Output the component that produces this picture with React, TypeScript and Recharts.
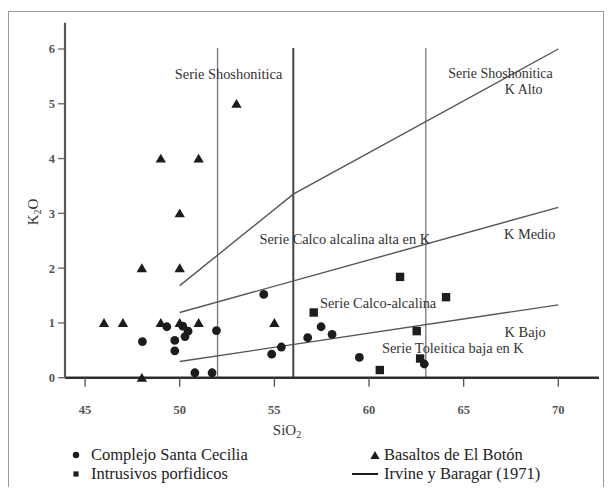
import React from 'react';
import { ScatterChart, Scatter, XAxis, YAxis, ReferenceLine, Legend } from 'recharts';

const FONT = '"Liberation Serif", Tinos, "DejaVu Serif", "Noto Serif", "Times New Roman", Times, serif';

const xTicks = [45, 50, 55, 60, 65, 70];
const yTicks = [0, 1, 2, 3, 4, 5, 6];

const santaCecilia = [
  { x: 48.03, y: 0.66 }, { x: 49.32, y: 0.93 }, { x: 49.74, y: 0.68 }, { x: 49.74, y: 0.49 },
  { x: 50.16, y: 0.94 }, { x: 50.28, y: 0.75 }, { x: 50.44, y: 0.85 }, { x: 51.94, y: 0.86 },
  { x: 50.8, y: 0.09 }, { x: 51.71, y: 0.09 }, { x: 54.44, y: 1.52 }, { x: 54.86, y: 0.43 },
  { x: 55.37, y: 0.56 }, { x: 56.76, y: 0.73 }, { x: 57.47, y: 0.93 }, { x: 58.05, y: 0.79 },
  { x: 59.49, y: 0.37 }, { x: 62.92, y: 0.25 },
];

const intrusivos = [
  { x: 61.64, y: 1.84 }, { x: 64.07, y: 1.47 }, { x: 57.08, y: 1.19 },
  { x: 62.52, y: 0.85 }, { x: 62.7, y: 0.35 }, { x: 60.57, y: 0.14 },
];

const basaltos = [
  { x: 53, y: 5 }, { x: 49, y: 4 }, { x: 51, y: 4 }, { x: 50, y: 3 }, { x: 48, y: 2 },
  { x: 50, y: 2 }, { x: 46, y: 1 }, { x: 47, y: 1 }, { x: 49, y: 1 }, { x: 50, y: 1 },
  { x: 51, y: 1 }, { x: 55, y: 1 }, { x: 48, y: 0 },
];

const lineUpper = [{ x: 50, y: 1.68 }, { x: 56, y: 3.35 }, { x: 70, y: 6.0 }];
const lineMiddle = [{ x: 50, y: 1.19 }, { x: 70, y: 3.11 }];
const lineLower = [{ x: 50, y: 0.295 }, { x: 70, y: 1.33 }];

const verticalX = [52, 56, 63];
const verticalTop = 6.02;

const fieldLabels = [
  { x: 52.58, y: 5.54, text: 'Serie Shoshonitica', anchor: 'middle', size: 14.4 },
  { x: 69.71, y: 5.56, text: 'Serie Shoshonitica', anchor: 'end', size: 14 },
  { x: 69.17, y: 5.26, text: 'K Alto', anchor: 'end', size: 14 },
  { x: 58.72, y: 2.54, text: 'Serie Calco alcalina alta en K', anchor: 'middle', size: 14.4 },
  { x: 68.49, y: 2.63, text: 'K Medio', anchor: 'middle', size: 14.4 },
  { x: 60.48, y: 1.36, text: 'Serie Calco-alcalina', anchor: 'middle', size: 14.4 },
  { x: 68.25, y: 0.84, text: 'K Bajo', anchor: 'middle', size: 14.4 },
  { x: 64.43, y: 0.54, text: 'Serie Toleitica baja en K', anchor: 'middle', size: 14.4 },
];

const legendItems = [
  { name: 'Complejo Santa Cecilia', kind: 'circle' },
  { name: 'Intrusivos porfidicos', kind: 'square' },
  { name: 'Basaltos de El Botón', kind: 'triangle' },
  { name: 'Irvine y Baragar (1971)', kind: 'line' },
];

const MARK = '#1c1c1c';

const CircleShape = (p: any) => <circle cx={p.cx} cy={p.cy} r={4.4} fill={MARK} />;
const SquareShape = (p: any) => <rect x={p.cx - 4.2} y={p.cy - 4.2} width={8.4} height={8.4} fill={MARK} />;
const TriangleShape = (p: any) => (
  <path d={`M${p.cx},${p.cy - 4.8}L${p.cx + 5.2},${p.cy + 4}L${p.cx - 5.2},${p.cy + 4}Z`} fill={MARK} />
);
const NoShape = () => <g />;
const TextShape = (p: any) => (
  <text
    x={p.cx}
    y={p.cy}
    textAnchor={p.payload.anchor}
    dominantBaseline="central"
    style={{ fontFamily: FONT }}
    fontSize={p.payload.size}
    fill="#333"
  >
    {p.payload.text}
  </text>
);

const legendPos: Record<string, { ix: number; iw: number; tx: number; cy: number }> = {
  circle: { ix: 76.4, iw: 10, tx: 91, cy: 15 },
  square: { ix: 76.4, iw: 10, tx: 91, cy: 33.5 },
  triangle: { ix: 375.3, iw: 12, tx: 384, cy: 14.5 },
  line: { ix: 364.5, iw: 26, tx: 384, cy: 33.5 },
};

const LegendIcon = ({ kind }: { kind: string }) => {
  if (kind === 'circle') return <svg width={10} height={10}><circle cx={5} cy={5} r={3.2} fill={MARK} /></svg>;
  if (kind === 'square') return <svg width={10} height={10}><rect x={2.4} y={2.4} width={5.2} height={5.2} fill={MARK} /></svg>;
  if (kind === 'triangle') return <svg width={12} height={10}><path d="M6,1L10.6,9L1.4,9Z" fill={MARK} /></svg>;
  return <svg width={26} height={10}><line x1={0} y1={5} x2={26} y2={5} stroke={MARK} strokeWidth={2} /></svg>;
};

const LegendContent = () => (
  <div style={{ position: 'relative', width: 608, height: 45, fontFamily: FONT }}>
    {legendItems.map((it) => {
      const pos = legendPos[it.kind];
      return (
        <React.Fragment key={it.name}>
          <div style={{ position: 'absolute', left: pos.ix - pos.iw / 2, top: pos.cy - 5, width: pos.iw, height: 10, lineHeight: 0 }}>
            <LegendIcon kind={it.kind} />
          </div>
          <div
            style={{
              position: 'absolute', left: pos.tx, top: pos.cy - 10, height: 20, lineHeight: '20px',
              fontSize: 16.5, color: '#222', whiteSpace: 'nowrap', fontFamily: FONT,
            }}
          >
            {it.name}
          </div>
        </React.Fragment>
      );
    })}
  </div>
);

const XTitle = (props: any) => {
  const vb = props.viewBox;
  return (
    <text x={vb.x + 222} y={vb.y + 52} textAnchor="middle" dominantBaseline="central" style={{ fontFamily: FONT }} fontSize={15} fill="#333">
      SiO<tspan fontSize={10} dy={4}>2</tspan>
    </text>
  );
};

const YTitle = (props: any) => {
  const vb = props.viewBox;
  const cx = vb.x + 33;
  const cy = 212;
  return (
    <text x={cx} y={cy} textAnchor="middle" dominantBaseline="central" transform={`rotate(-90 ${cx} ${cy})`} style={{ fontFamily: FONT }} fontSize={15} fill="#333">
      K<tspan fontSize={10} dy={4}>2</tspan><tspan dy={-4}>O</tspan>
    </text>
  );
};

export default function App() {
  return (
    <div style={{ position: 'absolute', left: 0, top: 0, width: 608, height: 489, background: '#fff', fontFamily: FONT }}>
      <div
        style={{
          position: 'absolute', left: 8, top: 11, width: 596, height: 476,
          border: '1.5px solid #9a9a9a', borderBottom: 'none', boxSizing: 'border-box',
        }}
      />
      <ScatterChart width={608} height={489} margin={{ top: 22.7, right: 9, left: 0, bottom: 81.3 }} style={{ fontFamily: FONT }}>
        <XAxis
          type="number"
          dataKey="x"
          domain={[43.94, 72.15]}
          ticks={xTicks}
          height={30}
          tickSize={9}
          tickMargin={18}
          axisLine={{ stroke: '#2e2e2e', strokeWidth: 2.6 }}
          tickLine={{ stroke: '#555', strokeWidth: 1.3 }}
          tick={{ fontFamily: FONT, fontSize: 12.5, fontWeight: 'bold', fill: '#555' }}
          label={<XTitle />}
        />
        <YAxis
          type="number"
          dataKey="y"
          domain={[0, 6.48]}
          ticks={yTicks}
          width={65}
          tickSize={7}
          tickMargin={3}
          axisLine={{ stroke: '#555', strokeWidth: 2.2 }}
          tickLine={{ stroke: '#666', strokeWidth: 1.3 }}
          tick={{ fontFamily: FONT, fontSize: 12.5, fontWeight: 'bold', fill: '#555' }}
          label={<YTitle />}
        />
        {verticalX.map((vx) => (
          <ReferenceLine
            key={vx}
            segment={[{ x: vx, y: 0 }, { x: vx, y: verticalTop }]}
            stroke={vx === 56 ? '#444' : '#777'}
            strokeWidth={vx === 56 ? 2 : 1.3}
            ifOverflow="visible"
          />
        ))}
        <Scatter data={lineUpper} line={{ stroke: '#555', strokeWidth: 1.4 }} shape={NoShape} isAnimationActive={false} legendType="none" />
        <Scatter data={lineMiddle} line={{ stroke: '#555', strokeWidth: 1.4 }} shape={NoShape} isAnimationActive={false} legendType="none" />
        <Scatter data={lineLower} line={{ stroke: '#555', strokeWidth: 1.4 }} shape={NoShape} isAnimationActive={false} legendType="none" />
        <Scatter data={fieldLabels} shape={TextShape} isAnimationActive={false} legendType="none" />
        <Scatter name="Complejo Santa Cecilia" data={santaCecilia} shape={CircleShape} isAnimationActive={false} />
        <Scatter name="Intrusivos porfidicos" data={intrusivos} shape={SquareShape} isAnimationActive={false} />
        <Scatter name="Basaltos de El Botón" data={basaltos} shape={TriangleShape} isAnimationActive={false} />
        <Legend
          layout="horizontal"
          verticalAlign="middle"
          align="center"
          content={<LegendContent />}
          wrapperStyle={{ left: 0, top: 440, width: 608, height: 45 }}
        />
      </ScatterChart>
    </div>
  );
}
